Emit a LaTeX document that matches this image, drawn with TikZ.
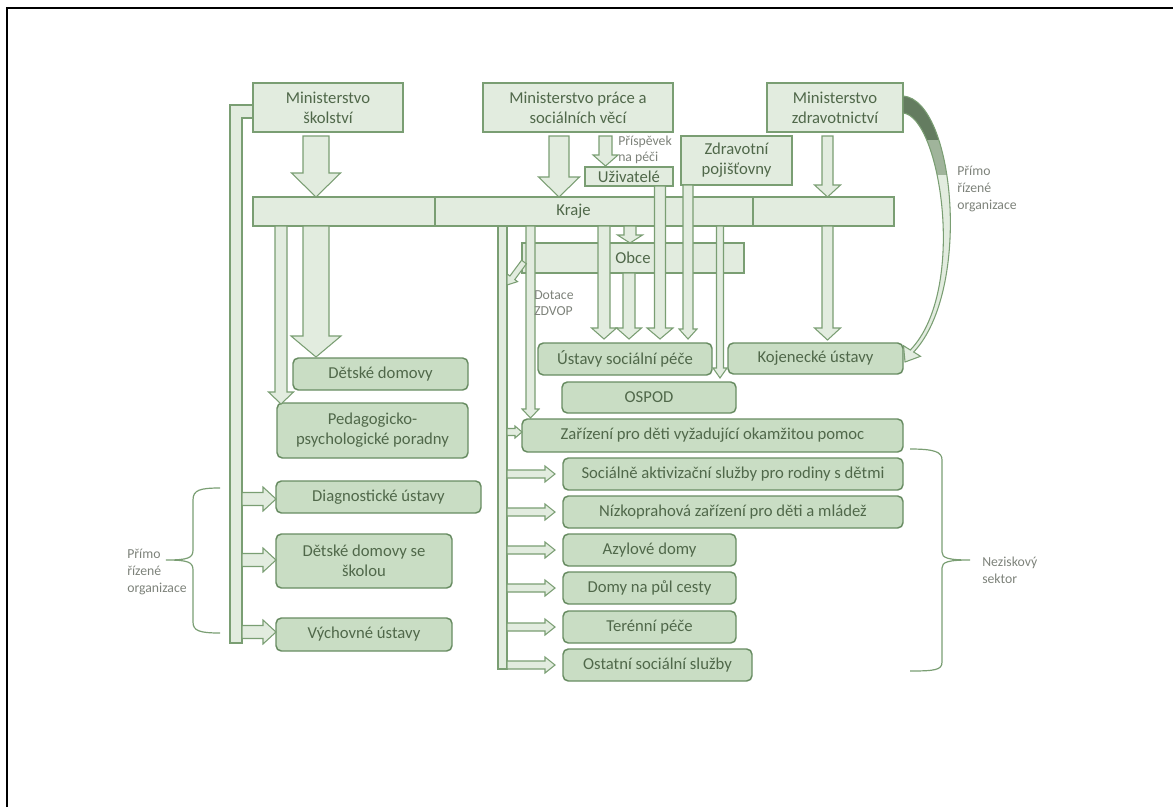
\documentclass[tikz,border=0pt]{standalone}
\usepackage{fontspec}
\setmainfont{Carlito}
\definecolor{fl}{RGB}{226,236,223}
\definecolor{fr}{RGB}{201,221,196}
\definecolor{bc}{RGB}{122,158,115}
\definecolor{bd}{RGB}{104,140,98}
\definecolor{tc}{RGB}{80,104,74}
\definecolor{gc}{RGB}{125,130,122}
\definecolor{dk}{RGB}{100,124,96}
\definecolor{md}{RGB}{160,180,155}
\tikzset{
 sq/.style={draw=bc, fill=fl, line width=0.9pt, text=tc, inner sep=0pt, outer sep=0pt, align=center, font=\fontsize{12.5}{15}\selectfont},
 rb/.style={sq, fill=fr, draw=bd, rounded corners=4pt, line width=1.1pt},
 arr/.style={draw=bc, fill=fl, line width=0.8pt, line join=miter},
 lbl/.style={text=gc, align=left, inner sep=0pt, font=\fontsize{10.3}{12.5}\selectfont, anchor=west},
 brc/.style={draw=bc, line width=0.9pt},
}
\newcommand\bx[7][sq]{\node[#1, anchor=north west, minimum width={(#4-#2)*0.75pt}, minimum height={(#5-#3)*0.75pt}] (#6) at (#2,#3) {#7};}
\newcommand\barr[7]{%
 \pgfmathsetmacro\bdx{(#3-#1)/100}%
 \pgfmathsetmacro\bdy{(#4-#2)/100}%
 \pgfmathsetmacro\bL{veclen(\bdx,\bdy)}%
 \pgfmathsetmacro\bux{\bdx/\bL}%
 \pgfmathsetmacro\buy{\bdy/\bL}%
 \pgfmathsetmacro\bbx{#3-#7*\bux}%
 \pgfmathsetmacro\bby{#4-#7*\buy}%
 \filldraw[arr] ({#1-#5*\buy},{#2+#5*\bux}) -- ({\bbx-#5*\buy},{\bby+#5*\bux}) -- ({\bbx-#6*\buy},{\bby+#6*\bux}) -- (#3,#4) -- ({\bbx+#6*\buy},{\bby-#6*\bux}) -- ({\bbx+#5*\buy},{\bby-#5*\bux}) -- ({#1+#5*\buy},{#2-#5*\bux}) -- cycle;}
\newcommand\curvpath{(903,96) .. controls (955,100) and (972,290) .. (913.7,352)
 -- (920.5,356.3) -- (905,362) -- (903.5,345.7) -- (910.3,350)
 .. controls (968,290) and (940,116) .. (903,113) -- cycle}
\begin{document}
\begin{tikzpicture}[x=0.75pt,y=-0.75pt]
\useasboundingbox (0,0) rectangle (1173,807);
\draw[black, line width=0.9pt] (7,807) -- (7,8) -- (1173,8);
% left band and spine
\filldraw[arr] (253,105) -- (230,105) -- (230,643) -- (242,643) -- (242,118) -- (253,118) -- cycle;
\filldraw[arr] (498,226) rectangle (507,669);
% top boxes
\bx{253}{83}{403}{132}{ms}{Ministerstvo\\školství}
\bx{483}{83}{673}{132}{mpsv}{Ministerstvo práce a\\sociálních věcí}
\bx{767}{83}{903}{132}{mz}{Ministerstvo\\zdravotnictví}
\bx{585}{167}{673}{186}{uz}{Uživatelé}
\bx{681}{136}{792}{185}{zp}{Zdravotní\\pojišťovny}
\bx{253}{197}{894}{226}{kraje}{Kraje}
\draw[bc, line width=0.9pt] (435,197) -- (435,226) (753,197) -- (753,226);
\bx{522}{243}{744}{273}{obce}{Obce}
% rounded boxes
\bx[rb]{293}{358}{468}{390}{dd}{Dětské domovy}
\bx[rb]{277}{403}{468}{458}{ppp}{Pedagogicko-\\psychologické poradny}
\bx[rb]{276}{481}{481}{513}{diag}{Diagnostické ústavy}
\bx[rb]{276}{534}{452}{588}{dds}{Dětské domovy se\\školou}
\bx[rb]{276}{618}{452}{651}{vu}{Výchovné ústavy}
\bx[rb]{538}{343}{712}{375}{usp}{Ústavy sociální péče}
\bx[rb]{728}{343}{903}{374}{ku}{Kojenecké ústavy}
\bx[rb]{562}{382}{736}{413}{ospod}{OSPOD}
\bx[rb]{522}{419}{903}{452}{zar}{Zařízení pro děti vyžadující okamžitou pomoc}
\bx[rb]{563}{458}{903}{490}{sas}{Sociálně aktivizační služby pro rodiny s dětmi}
\bx[rb]{563}{496}{903}{528}{nzdm}{Nízkoprahová zařízení pro děti a mládež}
\bx[rb]{563}{534}{736}{566}{ad}{Azylové domy}
\bx[rb]{563}{572}{736}{604}{dpc}{Domy na půl cesty}
\bx[rb]{563}{611}{736}{643}{tp}{Terénní péče}
\bx[rb]{563}{649}{752}{681}{oss}{Ostatní sociální služby}
% block arrows
\barr{316}{136}{316}{197}{13}{24.5}{24}
\barr{559}{136}{559}{197}{10}{20.5}{20}
\barr{605.5}{136}{605.5}{166}{6.5}{12.5}{11}
\barr{827.5}{136}{827.5}{197}{5.5}{13}{12}
\barr{316}{226}{316}{357}{13}{25}{21}
\barr{281}{226}{281}{404}{6}{12.5}{12}
\barr{630}{226}{630}{243}{6}{12.5}{8}
\barr{604}{226}{604}{339}{6}{12.5}{11}
\barr{629}{273}{629}{339}{6}{12.5}{11}
\barr{660}{186}{660}{339}{5.5}{13}{11}
\barr{688}{185}{688}{339}{5}{9}{10}
\barr{720}{226}{720}{378}{3.5}{7}{10}
\barr{827.5}{226}{827.5}{340}{5.5}{13}{12}
\barr{530.5}{226}{530.5}{418}{4.5}{8.5}{9}
\barr{524}{262}{507}{285}{3}{6.5}{9}
\barr{507}{432}{522}{432}{3.5}{6}{7}
\foreach \yy in {474,512,550,588,627,665} {\barr{507}{\yy}{555}{\yy}{4}{8}{10}}
\foreach \yy in {499,560,632} {\barr{242}{\yy}{276}{\yy}{6.5}{12}{13}}
% curved arrow MZ -> Kojenecke
\begin{scope}
\clip \curvpath;
\fill[fl] (890,90) rectangle (990,370);
\fill[md] (890,90) rectangle (990,175);
\fill[dk] (890,90) rectangle (990,140);
\end{scope}
\draw[bc, line width=0.8pt, line join=miter] \curvpath;
% labels
\node[lbl] (pp) at (618,150) {Příspěvek\\na péči};
\node[lbl] (dz) at (534,303) {Dotace\\ZDVOP};
\node[lbl] (pr) at (957,189) {Přímo\\řízené\\organizace};
\node[lbl] (pl) at (127,572) {Přímo\\řízené\\organizace};
\node[lbl] (ns) at (982,570) {Neziskový\\sektor};
% braces
\draw[brc] (220,488) .. controls (200,488) and (193,490) .. (193,500) -- (193,550) .. controls (193,558) and (188,560) .. (166,560)
 .. controls (188,560) and (193,562) .. (193,570) -- (193,622) .. controls (193,631) and (200,633) .. (220,633);
\draw[brc] (910,449) .. controls (935,449) and (942,452) .. (942,460) -- (942,552) .. controls (942,558) and (948,560) .. (970,560)
 .. controls (948,560) and (942,562) .. (942,568) -- (942,662) .. controls (942,670) and (935,671) .. (910,671);
\end{tikzpicture}
\end{document}
